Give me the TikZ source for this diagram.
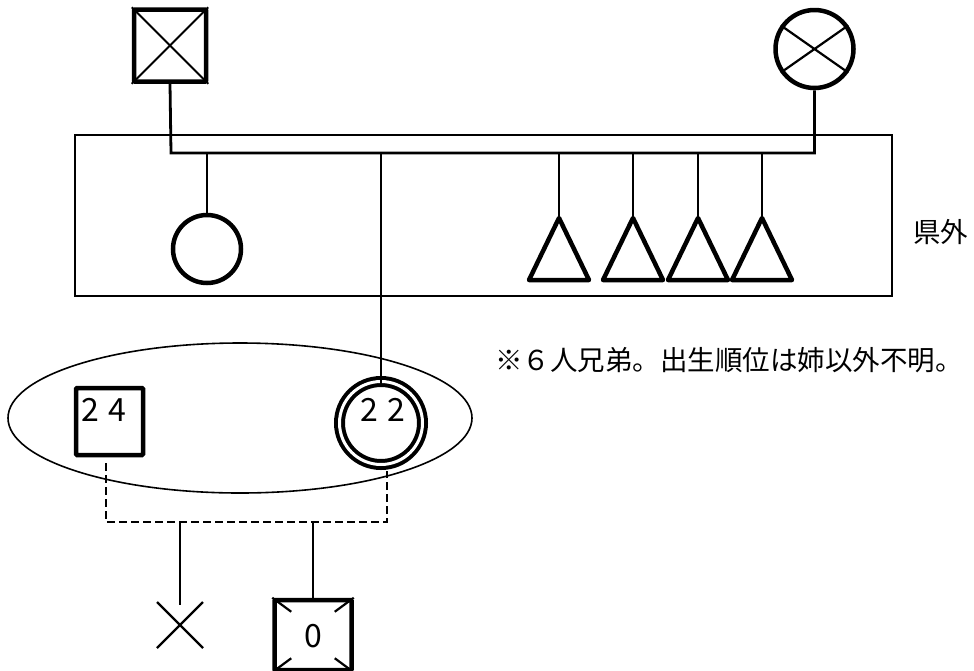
\documentclass[tikz,border=0pt]{standalone}
\usepackage{fontspec}
\usepackage{tikz}
\usetikzlibrary{shapes.geometric}
\newfontfamily\jpfont{Noto Sans CJK JP}
\tikzset{
	kinline/.style={line width=2.8pt},
	dashkin/.style={line width=2.6pt, dash pattern=on 8pt off 4pt},
	male/.style={draw, rectangle, line width=4.5pt, inner sep=0pt, rounded corners=1pt},
	female/.style={draw, circle, line width=4.5pt, inner sep=0pt},
	jptext/.style={font=\jpfont\fontsize{27.5}{27.5}\selectfont, inner sep=0pt},
	agetext/.style={font=\jpfont\fontsize{32}{32}\selectfont, inner sep=0pt}
}

\begin{document}
\begin{tikzpicture}[x=1pt,y=-1pt]
		\useasboundingbox (0,0) rectangle (974,670);

		% grandparents
		\node (gfather) [male, minimum size=72pt] at (170,45.5) {};
		\draw[line width=2pt] (gfather.north west) -- (gfather.south east);
		\draw[line width=2pt] (gfather.north east) -- (gfather.south west);
		\node (gmother) [female, minimum size=78pt] at (814.5,49) {};
		\draw[line width=2.2pt] (gmother.145) -- (gmother.-35);
		\draw[line width=2.2pt] (gmother.35) -- (gmother.215);

		% prefecture frame
		\node (outside) [draw, line width=2.2pt, minimum width=817pt, minimum height=161pt, inner sep=0pt] at (483.5,215.5) {};
		\node (kengai) [jptext, anchor=west] at (913,232) {県外};

		% sibling line
		\coordinate (sibl) at (171,153);
		\coordinate (sibr) at (814.5,153);
		\draw[kinline] (gfather.south) -- (sibl) -- (sibr) -- (gmother.south);

		% sister
		\node (sister) [female, minimum size=68pt] at (207,249) {};
		\draw[kinline] (sister.north |- sibl) -- (sister.north);

		% brothers
		\foreach \x [count=\i] in {559,633,698,762} {
			\coordinate (bro\i) at (\x,218);
			\draw[line width=4.5pt, line join=round] (bro\i) -- ++(30,62) -- ++(-60,0) -- cycle;
			\draw[kinline] (bro\i |- sibl) -- ++(0,70);
		}

		% couple
		\node (couple) [draw, ellipse, line width=1.6pt, minimum width=464pt, minimum height=150pt] at (240,418) {};
		\node (husband) [male, minimum size=67pt] at (109.5,421.5) {};
		\node (husbandage) [agetext] at (104,410) {2\kern10pt 4};
		\node (wife) [female, double, double distance=3pt, line width=4pt, minimum size=83pt] at (381,423) {};
		\node (wifeage) [agetext] at (383,410) {2\kern10pt 2};
		\draw[kinline] (wife.north |- sibl) -- ([yshift=-6pt]wife.north);

		\node (note) [jptext, anchor=west] at (495,360) {※６人兄弟。出生順位は姉以外不明。};

		% marriage line
		\coordinate (dl) at (106,522);
		\coordinate (dr) at (387,522);
		\draw[dashkin] (106,463) -- (dl) -- (dr) -- (387,471);

		% children
		\coordinate (baby) at (180,625);
		\draw[kinline] (baby |- dl) -- ++(0,83);
		\draw[line width=2.4pt] (baby) ++(-23,-23) -- ++(46,46);
		\draw[line width=2.4pt] (baby) ++(23,-23) -- ++(-46,46);

		\node (child) [male, minimum width=77pt, minimum height=70pt] at (313,635) {};
		\node (childage) [agetext] at (313,636) {0};
		\draw[kinline] (child.north |- dl) -- (child.north);
		\draw[line width=2.2pt] (child.north west) -- ++(19,14);
		\draw[line width=2.2pt] (child.north east) -- ++(-19,14);
		\draw[line width=2.2pt] (child.south west) -- ++(19,-14);
		\draw[line width=2.2pt] (child.south east) -- ++(-19,-14);
	\end{tikzpicture}
\end{document}
